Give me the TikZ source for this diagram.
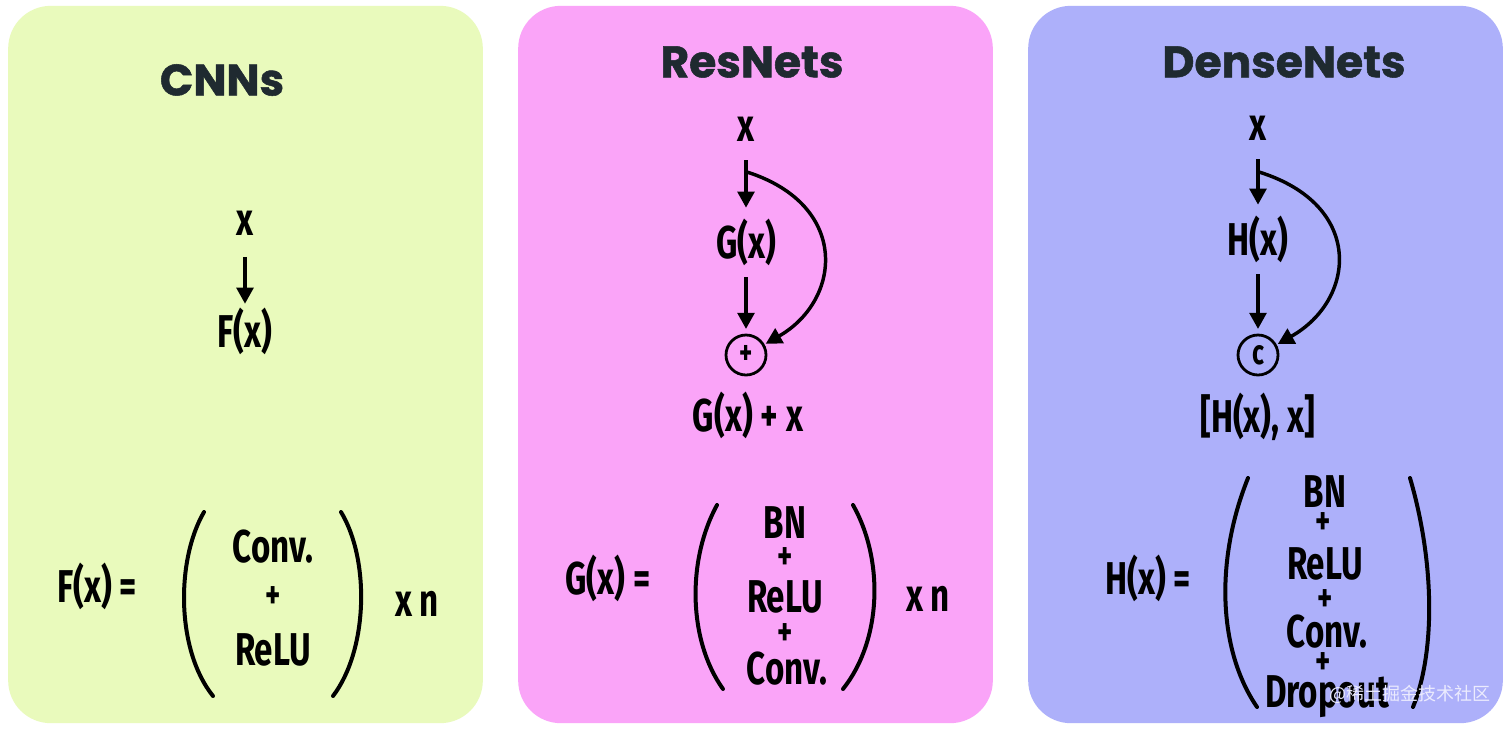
\documentclass[tikz,border=0pt]{standalone}
\usepackage{fontspec}
\usetikzlibrary{arrows.meta}
\newfontfamily\handfont[FakeStretch=0.72]{Fira Sans}
\newfontfamily\titlefont[FakeBold=1.2]{Poppins}
\newfontfamily\cjkfont{Noto Sans CJK SC}
\definecolor{pone}{RGB}{233,250,188}
\definecolor{ptwo}{RGB}{250,164,248}
\definecolor{pthree}{RGB}{173,176,250}
\definecolor{ttl}{RGB}{31,42,48}
\tikzset{
  panel/.style={fill=#1, rounded corners=32pt, minimum width=356pt, minimum height=538pt, inner sep=0pt},
  ttlnode/.style={font=\titlefont\bfseries\fontsize{33}{38}\selectfont, text=ttl, inner sep=0pt},
  lbl/.style={font=\handfont\bfseries\fontsize{34.5}{40}\selectfont, inner sep=0pt, text height=23pt, text depth=6pt},
  itm/.style={font=\handfont\bfseries\fontsize{34.5}{40}\selectfont, inner sep=0pt},
  pls/.style={font=\handfont\bfseries\fontsize{30}{34}\selectfont, inner sep=0pt},
  opnode/.style={circle, draw, line width=2.1pt, minimum size=30pt, inner sep=0pt, font=\handfont\bfseries\fontsize{26}{30}\selectfont},
  arr/.style={line width=2.6pt, -{Triangle[length=12pt,width=12.5pt]}},
  paren/.style={line width=3pt, line cap=round},
  wmark/.style={font=\cjkfont\fontsize{13.5}{16}\selectfont, text=white!75!pthree, inner sep=0pt}
}
\begin{document}
\begin{tikzpicture}[x=0.75pt,y=-0.75pt]
\useasboundingbox (0,0) rectangle (1512,729);
\fill[white] (0,0) rectangle (1512,729);
% panels
\node[panel=pone] (p1) at (245.5,364.5) {};
\node[panel=ptwo] (p2) at (755.5,364.5) {};
\node[panel=pthree] (p3) at (1265.5,364.5) {};
% titles
\node[ttlnode] (t1) at (222,80) {CNNs};
\node[ttlnode] (t2) at (752,62) {ResNets};
\node[ttlnode] (t3) at (1284,62) {DenseNets};

% ---------- CNNs ----------
\node[lbl] (x1) at (245,224) {x};
\node[lbl] (f1) at (245,336) {F(x)};
\draw[arr, shorten <=10pt, shorten >=9.5pt] (x1) -- (f1);
\node[lbl] (feq) at (97,591) {F(x) =};
\node[itm] (c1a) at (273,547) {Conv.};
\node[pls] (c1p) at (273,598) {+};
\node[itm] (c1b) at (273,650) {ReLU};
\node[lbl] (xn1) at (417,605) {x n};
\draw[paren] (204,512) .. controls (176,560) and (176,650) .. (213,696);
\draw[paren] (341,512) .. controls (370,560) and (368,650) .. (333,696);

% ---------- ResNets ----------
\node[lbl] (x2) at (746,130) {x};
\node[lbl] (g2) at (746,247) {G(x)};
\node[opnode] (plus) at (746,355) {+};
\node[lbl] (out2) at (748,420) {G(x) + x};
\coordinate (br2) at (747,172);
\draw[arr, shorten <=8pt, shorten >=14.8pt] (x2) -- (g2);
\draw[arr, shorten <=8pt, shorten >=3.5pt] (g2) -- (plus);
\draw[arr, shorten >=1pt] (br2) .. controls (850,205) and (842,300) .. (plus);
\node[lbl] (geq) at (608,583) {G(x) =};
\node[itm] (r2a) at (785,523) {BN};
\node[pls] (r2p1) at (785,559) {+};
\node[itm] (r2b) at (785,597) {ReLU};
\node[pls] (r2p2) at (785,635) {+};
\node[itm] (r2c) at (787,669) {Conv.};
\node[lbl] (xn2) at (928,600) {x n};
\draw[paren] (717,505) .. controls (687,560) and (688,640) .. (723,689);
\draw[paren] (853,505) .. controls (884,560) and (882,640) .. (843,689);

% ---------- DenseNets ----------
\node[lbl] (x3) at (1258,129) {x};
\node[lbl] (h3) at (1258,244) {H(x)};
\node[opnode] (cat) at (1258,355) {c};
\node[lbl] (out3) at (1258,421) {[H(x), x]};
\coordinate (br3) at (1259,172);
\draw[arr, shorten <=8pt, shorten >=14.8pt] (x3) -- (h3);
\draw[arr, shorten <=8pt, shorten >=3.5pt] (h3) -- (cat);
\draw[arr, shorten >=1pt] (br3) .. controls (1365,205) and (1356,300) .. (cat);
\node[lbl] (heq) at (1148,583) {H(x) =};
\node[itm] (d3a) at (1325,492) {BN};
\node[pls] (d3p1) at (1323,524) {+};
\node[itm] (d3b) at (1325,564) {ReLU};
\node[pls] (d3p2) at (1325,601) {+};
\node[itm] (d3c) at (1327,632) {Conv.};
\node[pls] (d3p3) at (1323,664) {+};
\node[itm, anchor=base] (d3d) at (1327,707) {Dropout};
\draw[paren] (1248,478) .. controls (1215,560) and (1218,650) .. (1257,707);
\draw[paren] (1410,478) .. controls (1434,560) and (1436,650) .. (1413,707);
\node[wmark] (wm) at (1410,694) {@稀土掘金技术社区};
\end{tikzpicture}
\end{document}
